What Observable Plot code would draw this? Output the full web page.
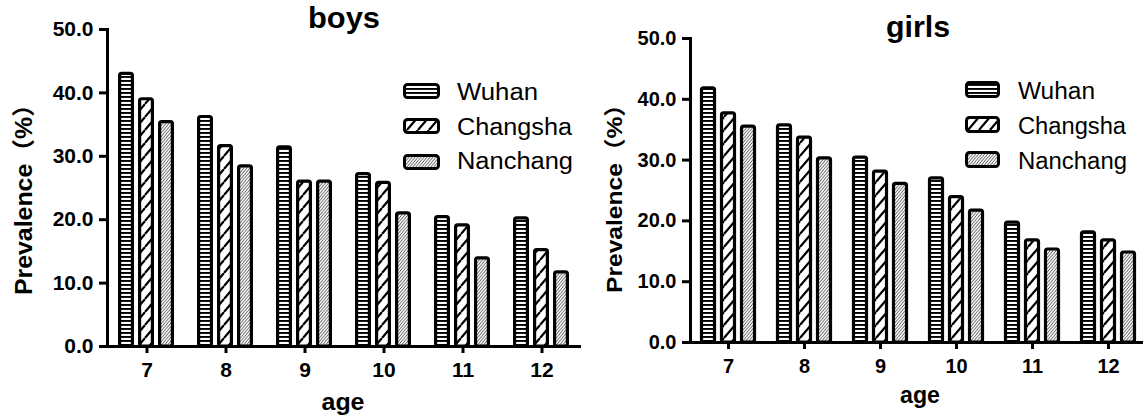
<!DOCTYPE html>
<html>
<head>
<meta charset="utf-8">
<script src="https://cdn.jsdelivr.net/npm/d3@7"></script>
<script src="https://cdn.jsdelivr.net/npm/@observablehq/plot@0.6"></script>
<style>
  html, body { margin: 0; padding: 0; background: #fff; }
  #root { position: relative; width: 1143px; height: 418px; overflow: hidden; background: #fff; }
  #root > svg { position: absolute; top: 0; }
  #overlay { left: 0; pointer-events: none; }
</style>
</head>
<body>
<div id="root"></div>
<script>
// ---- data ----
const ages = [7, 8, 9, 10, 11, 12];
const cities = ["Wuhan", "Changsha", "Nanchang"];
const yTicks = [0, 10, 20, 30, 40, 50];

const boysWuhan    = [43.0, 36.2, 31.4, 27.2, 20.4, 20.2];
const boysChangsha = [39.0, 31.6, 26.0, 25.8, 19.1, 15.2];
const boysNanchang = [35.4, 28.4, 26.0, 21.0, 13.9, 11.7];

const girlsWuhan    = [41.8, 35.7, 30.4, 27.0, 19.7, 18.1];
const girlsChangsha = [37.7, 33.7, 28.1, 23.9, 16.8, 16.8];
const girlsNanchang = [35.5, 30.3, 26.1, 21.7, 15.3, 14.8];

function makeTable(w, c, n) {
  const series = [w, c, n];
  const rows = [];
  ages.forEach((a, i) => cities.forEach((city, j) => rows.push({age: a, city, value: series[j][i]})));
  return rows;
}
const boys = makeTable(boysWuhan, boysChangsha, boysNanchang);
const girls = makeTable(girlsWuhan, girlsChangsha, girlsNanchang);

const NS = "http://www.w3.org/2000/svg";
function patternDefs(p) {
  const cw = 11, ch = 13;
  const nw = 3, nh = 3.6;
  return `
  <pattern id="${p}-Wuhan" patternUnits="userSpaceOnUse" width="8" height="4">
    <rect width="8" height="4" fill="#fff"/>
    <rect y="0" width="8" height="1.9" fill="#000"/>
  </pattern>
  <pattern id="${p}-Changsha" patternUnits="userSpaceOnUse" width="${cw}" height="${ch}">
    <rect width="${cw}" height="${ch}" fill="#fff"/>
    <path d="M${-cw},${ch} L0,0 M0,${ch} L${cw},0 M${cw},${ch} L${2*cw},0" stroke="#000" stroke-width="2.2"/>
  </pattern>
  <pattern id="${p}-Nanchang" patternUnits="userSpaceOnUse" width="${nw}" height="${nh}">
    <rect width="${nw}" height="${nh}" fill="#fff"/>
    <path d="M${-nw},${nh} L0,0 M0,${nh} L${nw},0 M${nw},${nh} L${2*nw},0" stroke="#444" stroke-width="0.9"/>
  </pattern>`;
}

const FONT = "'Liberation Sans', Arial, sans-serif";
function chart(data, p, cfg) {
  const svg = Plot.plot({
    width: cfg.width, height: 418,
    marginLeft: cfg.ml, marginRight: cfg.mr, marginTop: cfg.mt, marginBottom: cfg.mb,
    style: {fontFamily: FONT, fontSize: cfg.fs + "px", fontWeight: "bold", color: "#000", background: "transparent", overflow: "visible"},
    fx: {domain: ages, padding: 0, label: null},
    x: {domain: cities, paddingInner: 0.19, paddingOuter: 0.49, axis: null},
    y: {domain: [0, 50], label: null},
    color: {domain: cities, range: cities.map(c => `url(#${p}-${c})`)},
    marks: [
      Plot.barY(data, {fx: "age", x: "city", y: "value", fill: "city", stroke: "#000", strokeWidth: 3.2, rx: 2, insetLeft: cfg.inset, insetRight: cfg.inset}),
      Plot.ruleY([0], {stroke: "#000", strokeWidth: 3}),
      Plot.frame({anchor: "left", facetAnchor: "left", stroke: "#000", strokeWidth: 3}),
      Plot.axisY({ticks: yTicks, tickFormat: d3.format(".1f"), tickSize: 8, tickPadding: 6, strokeWidth: 3, label: null}),
      Plot.axisFx({anchor: "bottom", tickSize: 7, tickPadding: 9, strokeWidth: 3, label: null})
    ]
  });
  svg.querySelectorAll("text").forEach(t => {
    t.style.fontSize = cfg.fs + "px";
    t.style.fontWeight = "bold";
    t.style.fontFamily = FONT;
  });
  const defs = document.createElementNS(NS, "defs");
  defs.innerHTML = patternDefs(p);
  svg.insertBefore(defs, svg.firstChild);
  svg.style.left = cfg.left + "px";
  return svg;
}

const root = document.getElementById("root");
root.appendChild(chart(boys, "b", {width: 590, left: 0, ml: 105, mr: 8, mt: 29, mb: 72, fs: 21, inset: 1.6}));
root.appendChild(chart(girls, "g", {width: 570, left: 590, ml: 98, mr: 12, mt: 38, mb: 76, fs: 20, inset: 1.5}));

// ---- overlay texts and legends ----
const ov = document.createElementNS(NS, "svg");
ov.setAttribute("id", "overlay");
ov.setAttribute("width", 1143);
ov.setAttribute("height", 418);
let html = `<defs>${patternDefs("lg")}</defs>`;
function txt(s, x, y, size, weight, len, anchor, transform) {
  const tl = len ? ` textLength="${len}" lengthAdjust="spacingAndGlyphs"` : "";
  const tr = transform ? ` transform="${transform}"` : ` x="${x}" y="${y}"`;
  return `<text${tr} font-family="${FONT}" font-size="${size}" font-weight="${weight}" text-anchor="${anchor}" fill="#000"${tl}>${s}</text>`;
}
const CJK = "'Noto Sans CJK SC', sans-serif";
const yLabel = `Prevalence<tspan font-family="${CJK}">（</tspan>%<tspan font-family="${CJK}">）</tspan>`;
// titles
html += txt("boys", 344, 28, 30, "bold", 72, "middle");
html += txt("girls", 918, 37, 30, "bold", 64, "middle");
// x labels
html += txt("age", 343, 410, 24, "bold", 43, "middle");
html += txt("age", 920, 403, 23, "bold", 40, "middle");
// y labels
html += txt(yLabel, 0, 0, 23, "bold", 203, "middle", "translate(32,193.5) rotate(-90)");
html += txt(yLabel, 0, 0, 22, "bold", 201, "middle", "translate(622,192.5) rotate(-90)");
// legends
const legends = [
  {sx: 403, sw: 37, tx: 457, rows: [[83, 100], [118, 135], [154, 169]], lens: [81, 115, 116], h: 16},
  {sx: 965, sw: 35, tx: 1018, rows: [[81, 99], [116, 134], [151, 169]], lens: [77, 108, 109], h: 17}
];
legends.forEach(L => {
  cities.forEach((c, i) => {
    const [sy, base] = L.rows[i];
    html += `<rect x="${L.sx + 1.5}" y="${sy + 1.5}" width="${L.sw - 3}" height="${L.h - 3}" rx="3" fill="url(#lg-${c})" stroke="#000" stroke-width="3"/>`;
    html += txt(c, L.tx, base, 23, "normal", L.lens[i], "start");
  });
});
ov.innerHTML = html;
root.appendChild(ov);
</script>
</body>
</html>
